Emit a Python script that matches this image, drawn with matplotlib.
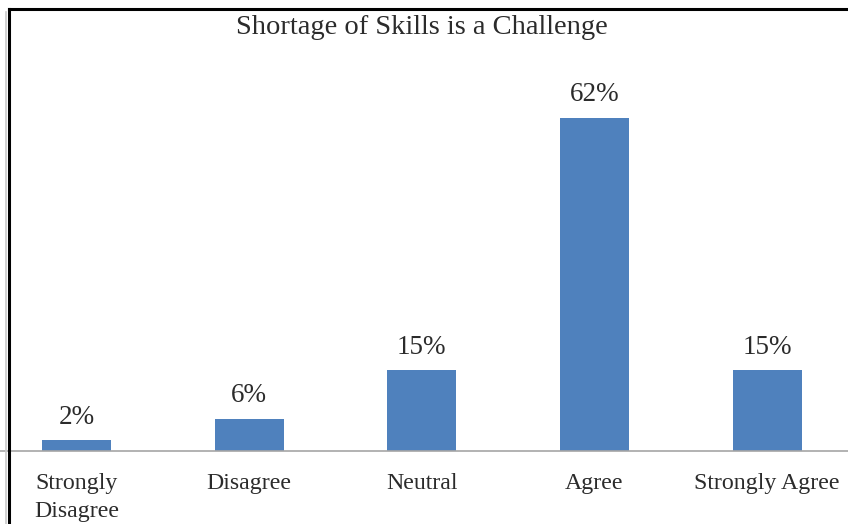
import numpy as np
import matplotlib.pyplot as plt
from matplotlib.lines import Line2D

categories = ['Strongly\nDisagree', 'Disagree', 'Neutral', 'Agree', 'Strongly Agree']
values = [2, 6, 15, 62, 15]
labels = ['2%', '6%', '15%', '62%', '15%']

W, H = 848, 524
fig = plt.figure(figsize=(W / 100, H / 100), dpi=100)
plt.rcParams['font.family'] = ['Liberation Serif', 'DejaVu Serif']
txt = '#2b2b2b'

# plot area in pixels: x spans slightly past the figure edges, baseline at y=451
x0, x1 = -10, 853.5
y_base, y_top = 451, 40
ax = fig.add_axes([x0 / W, 1 - y_base / H, (x1 - x0) / W, (y_base - y_top) / H])
px_per_unit = (451 - 118) / 62.0
ax.set_xlim(-0.5, 4.5)
ax.set_ylim(0, (y_base - y_top) / px_per_unit)

x = np.arange(len(categories))
ax.bar(x, values, width=0.4, color='#4F81BD')
for xi, v, t in zip(x, values, labels):
    ax.annotate(t, (xi, v), xytext=(0, 12), textcoords='offset points',
                ha='center', va='baseline', fontsize=19.5, color=txt)

for s in ax.spines.values():
    s.set_visible(False)
ax.set_yticks([])
ax.set_xticks(x)
ax.set_xticklabels(categories, fontsize=17.2, color=txt, linespacing=1.4)
ax.tick_params(axis='x', length=0, pad=16)
for lbl in ax.get_xticklabels():
    lbl.set_verticalalignment('top')
ax.axhline(0, color='#a6a6a6', lw=1.2, clip_on=False)

# frame lines on top and left
fig.add_artist(Line2D([9 / W, 1], [1 - 9 / H, 1 - 9 / H], color='black', lw=2.2))
fig.add_artist(Line2D([9 / W, 9 / W], [0, 1 - 9 / H], color='black', lw=2.2))
fig.add_artist(Line2D([6 / W, 6 / W], [0, 1 - 12 / H], color='#c8c8c8', lw=1.2))

fig.text(422 / W, 1 - 34 / H, 'Shortage of Skills is a Challenge', fontsize=20.5,
         ha='center', va='baseline', color=txt)

fig.savefig('out.png', dpi=100)
